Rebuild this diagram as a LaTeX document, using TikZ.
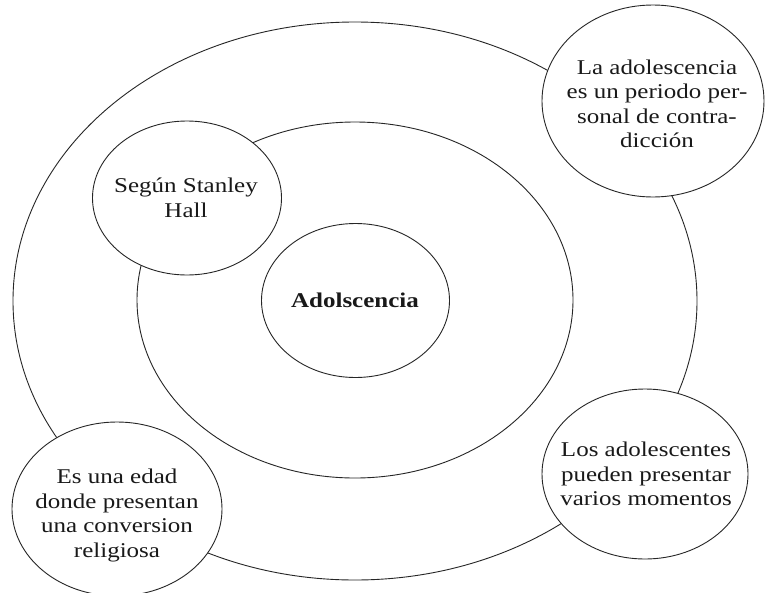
\documentclass[tikz,border=0pt]{standalone}
\usepackage{fontspec}
\setmainfont[FakeStretch=1.19]{Liberation Serif}
\usetikzlibrary{shapes.geometric}
\begin{document}
\begin{tikzpicture}[x=1pt,y=-1pt,
  ring/.style={ellipse, draw=black!85, line width=0.9pt, inner sep=0pt},
  bubble/.style={ellipse, draw=black!85, line width=0.9pt, fill=white, inner sep=0pt},
  txt/.style={align=center, font=\fontsize{21}{24.5}\selectfont, text=black!90, inner sep=0pt}]
\useasboundingbox (0,0) rectangle (766,592);
\fill[white] (0,0) rectangle (766,592);
\node[ring, minimum width=684pt, minimum height=558pt] (outer) at (355,301) {};
\node[ring, minimum width=436pt, minimum height=356pt] (middle) at (355,300) {};
\node[bubble, minimum width=188pt, minimum height=154pt] (core) at (355.5,300.5) {};
\node[txt, font=\fontsize{21}{24.5}\selectfont\bfseries] (coretxt) at (355,300.5) {Adolscencia};
\node[bubble, minimum width=189pt, minimum height=154pt] (hall) at (187,198) {};
\node[txt] (halltxt) at (186,197.8) {Según Stanley\\Hall};
\node[bubble, minimum width=222pt, minimum height=192pt] (contra) at (653,101) {};
\node[txt] (contratxt) at (657,103.8) {La adolescencia\\es un periodo per-\\sonal de contra-\\dicción};
\node[bubble, minimum width=206pt, minimum height=170pt] (momentos) at (645,474) {};
\node[txt] (momentostxt) at (646,474.3) {Los adolescentes\\pueden presentar\\varios momentos};
\node[bubble, minimum width=210pt, minimum height=174pt] (religion) at (117,509) {};
\node[txt] (religiontxt) at (117,515.5) {Es una edad\\donde presentan\\una conversion\\religiosa};
\end{tikzpicture}
\end{document}
